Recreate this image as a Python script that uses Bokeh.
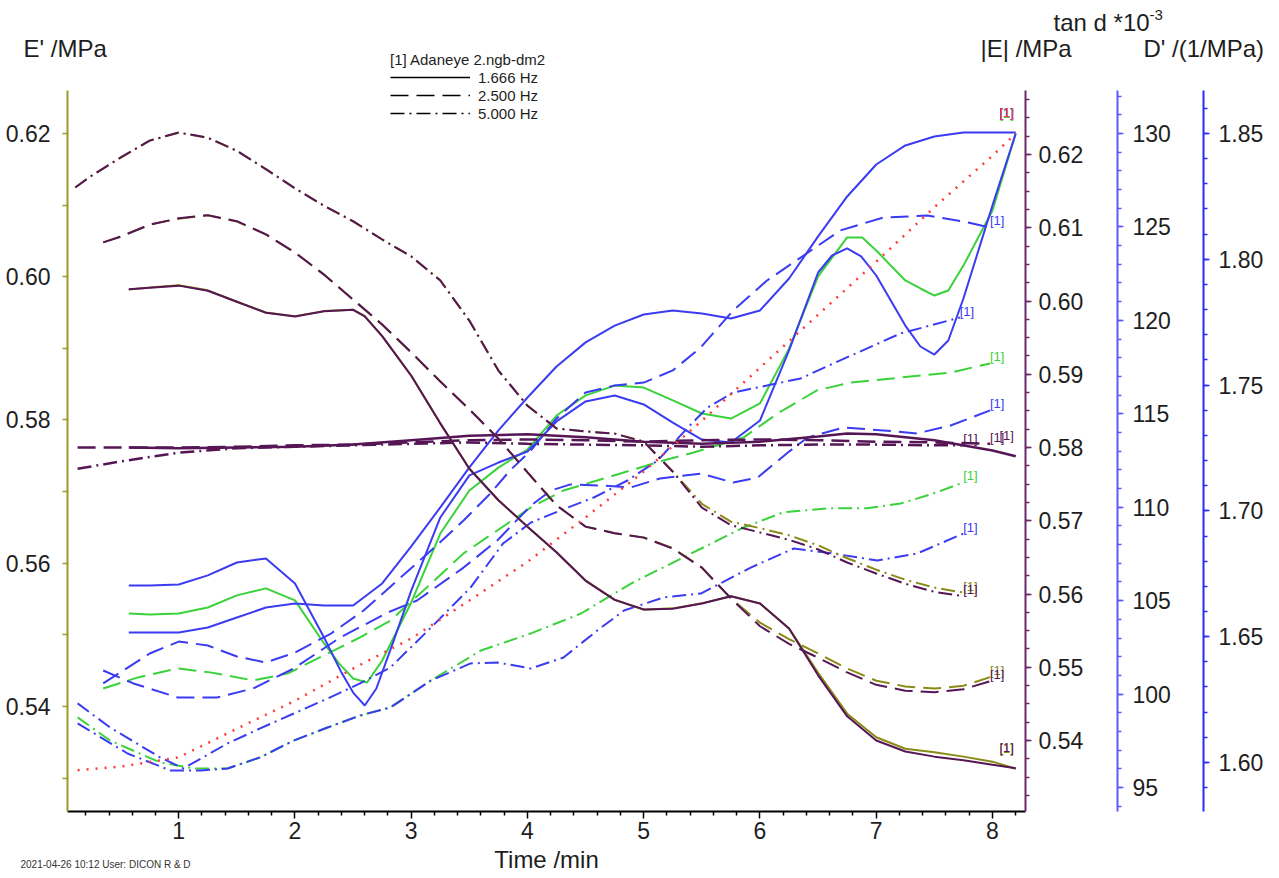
from bokeh.plotting import figure
from bokeh.models import (Range1d, LinearAxis, FixedTicker, Label, Legend, LegendItem,
                          ColumnDataSource, PrintfTickFormatter)
from bokeh.core.properties import value
from bokeh.embed import file_html
from bokeh.resources import INLINE

# ---------------------------------------------------------------- data
# E' (left axis) and |E| (first right axis), three frequencies
T_SOLID = [0.57, 0.75, 1.0, 1.25, 1.5, 1.75, 2.0, 2.25, 2.5, 2.6, 2.75, 3.0, 3.25, 3.5, 3.75, 4.0,
           4.25, 4.5, 4.75, 5.0, 5.25, 5.5, 5.75, 6.0, 6.25, 6.5, 6.75, 7.0, 7.25, 7.5, 7.75, 8.0, 8.2]
EP_SOLID = [0.5982, 0.5985, 0.5988, 0.5981, 0.5965, 0.5950, 0.5945, 0.5952, 0.5954, 0.5945, 0.5917,
            0.5862, 0.5795, 0.5732, 0.5688, 0.5651, 0.5615, 0.5576, 0.5549, 0.5535, 0.5537, 0.5544,
            0.5554, 0.5544, 0.5509, 0.5447, 0.5390, 0.5357, 0.5341, 0.5336, 0.5330, 0.5323, 0.5313]
ABS_SOLID = [0.6016, 0.6018, 0.6021, 0.6014, 0.5999, 0.5984, 0.5979, 0.5986, 0.5988, 0.5979, 0.5952,
             0.5898, 0.5833, 0.5771, 0.5728, 0.5692, 0.5657, 0.5618, 0.5592, 0.5579, 0.5580, 0.5587,
             0.5597, 0.5587, 0.5553, 0.5489, 0.5433, 0.5400, 0.5385, 0.5378, 0.5373, 0.5367, 0.5362]

T_DASH = [0.35, 0.5, 0.75, 1.0, 1.25, 1.5, 1.75, 2.0, 2.25, 2.5, 2.75, 3.0, 3.25, 3.5, 3.75, 4.0,
          4.25, 4.5, 4.75, 5.0, 5.25, 5.5, 5.75, 6.0, 6.25, 6.5, 6.75, 7.0, 7.25, 7.5, 7.75, 7.98]
EP_DASH = [0.6048, 0.6056, 0.6073, 0.6081, 0.6086, 0.6077, 0.6059, 0.6034, 0.6003, 0.5968, 0.5933,
           0.5894, 0.5854, 0.5815, 0.5774, 0.5727, 0.5681, 0.5651, 0.5642, 0.5636, 0.5621, 0.5594,
           0.5551, 0.5517, 0.5494, 0.5474, 0.5453, 0.5436, 0.5428, 0.5425, 0.5429, 0.5441]
ABS_DASH = [0.6080, 0.6088, 0.6104, 0.6113, 0.6117, 0.6109, 0.6091, 0.6066, 0.6036, 0.6002, 0.5968,
            0.5930, 0.5890, 0.5852, 0.5812, 0.5766, 0.5721, 0.5692, 0.5683, 0.5677, 0.5662, 0.5636,
            0.5594, 0.5556, 0.5532, 0.5513, 0.5493, 0.5476, 0.5468, 0.5466, 0.5470, 0.5481]

T_DDOT = [0.11, 0.25, 0.5, 0.75, 1.0, 1.25, 1.5, 1.75, 2.0, 2.25, 2.5, 2.75, 3.0, 3.25, 3.5, 3.75,
          4.0, 4.25, 4.5, 4.75, 5.0, 5.25, 5.5, 5.75, 6.0, 6.25, 6.5, 6.75, 7.0, 7.25, 7.5, 7.75]
EP_DDOT = [0.6125, 0.6141, 0.6166, 0.6190, 0.6201, 0.6194, 0.6176, 0.6150, 0.6123, 0.6099, 0.6077,
           0.6052, 0.6028, 0.5995, 0.5939, 0.5869, 0.5820, 0.5788, 0.5784, 0.5781, 0.5770, 0.5728,
           0.5683, 0.5658, 0.5649, 0.5639, 0.5625, 0.5607, 0.5591, 0.5577, 0.5566, 0.5559]
ABS_DDOT = [0.6155, 0.6171, 0.6196, 0.6219, 0.6230, 0.6223, 0.6205, 0.6180, 0.6154, 0.6130, 0.6109,
            0.6084, 0.6061, 0.6028, 0.5973, 0.5905, 0.5857, 0.5826, 0.5822, 0.5819, 0.5808, 0.5767,
            0.5718, 0.5694, 0.5684, 0.5674, 0.5661, 0.5643, 0.5628, 0.5614, 0.5603, 0.5597]

# nearly flat |E| traces
T_FLAT_S = [0.57, 1.0, 1.5, 2.0, 2.5, 3.0, 3.5, 4.0, 4.5, 5.0, 5.5, 6.0, 6.5, 6.75, 7.0, 7.5, 8.0, 8.2]
FLAT_S = [0.5800, 0.5799, 0.5800, 0.5801, 0.5804, 0.5810, 0.5816, 0.5818, 0.5814, 0.5808, 0.5805,
          0.5808, 0.5815, 0.5819, 0.5818, 0.5810, 0.5796, 0.5788]
T_FLAT_D = [0.13, 0.5, 1.0, 1.5, 2.0, 2.5, 3.0, 3.5, 4.0, 4.5, 5.0, 5.5, 6.0, 6.5, 7.0, 7.5, 7.98]
FLAT_D = [0.5800, 0.5800, 0.5800, 0.5801, 0.5803, 0.5804, 0.5807, 0.5810, 0.5811, 0.5810, 0.5808,
          0.5810, 0.5811, 0.5810, 0.5808, 0.5807, 0.5805]
T_FLAT_DD = [0.13, 0.5, 1.0, 1.5, 2.0, 2.5, 3.0, 3.5, 4.0, 4.5, 5.0, 5.5, 6.0, 6.5, 7.0, 7.5, 7.75]
FLAT_DD = [0.5771, 0.5781, 0.5793, 0.5799, 0.5801, 0.5803, 0.5805, 0.5807, 0.5805, 0.5804, 0.5803,
           0.5801, 0.5803, 0.5804, 0.5804, 0.5803, 0.5803]

# tan d *10^-3 (blue)
T_TAN_S1 = [0.57, 0.75, 1.0, 1.25, 1.5, 1.75, 2.0, 2.25, 2.4, 2.5, 2.6, 2.7, 2.85, 3.0, 3.25, 3.5,
            3.75, 4.0, 4.25, 4.5, 4.75, 5.0, 5.25, 5.5, 5.75, 6.0, 6.25, 6.5, 6.62, 6.75, 6.87, 7.0,
            7.25, 7.38, 7.5, 7.62, 7.75, 8.0, 8.2]
TAN_S1 = [105.81, 105.81, 105.86, 106.35, 107.04, 107.26, 105.92, 103.03, 101.15, 100.08, 99.39,
          100.30, 102.87, 105.54, 109.45, 111.70, 112.39, 112.98, 114.59, 115.66, 115.98, 115.50,
          114.53, 113.62, 113.46, 114.64, 118.39, 122.56, 123.47, 123.85, 123.42, 122.40, 119.72,
          118.60, 118.17, 118.92, 121.17, 126.15, 130.00]
T_TAN_S2 = [0.57, 0.75, 1.0, 1.25, 1.5, 1.75, 2.0, 2.25, 2.5, 2.75, 3.0, 3.25, 3.5, 3.75, 4.0, 4.25,
            4.5, 4.75, 5.0, 5.25, 5.5, 5.75, 6.0, 6.25, 6.5, 6.75, 7.0, 7.25, 7.5, 7.75, 8.0, 8.2]
TAN_S2 = [103.30, 103.30, 103.30, 103.56, 104.10, 104.63, 104.85, 104.74, 104.74, 105.92, 107.90,
          109.99, 112.13, 114.11, 115.87, 117.53, 118.82, 119.72, 120.31, 120.53, 120.37, 120.10,
          120.53, 122.24, 124.49, 126.63, 128.34, 129.36, 129.84, 130.05, 130.05, 130.05]
T_TAN_D1 = [0.35, 0.75, 1.0, 1.25, 1.5, 1.75, 2.0, 2.31, 2.59, 2.88, 3.17, 3.45, 3.68, 3.85, 4.03,
            4.25, 4.5, 4.75, 5.0, 5.25, 5.49, 5.77, 6.06, 6.35, 6.69, 7.06, 7.44, 7.79, 7.98]
TAN_D1 = [100.57, 102.17, 102.81, 102.60, 102.01, 101.69, 102.22, 103.24, 104.47, 106.08, 107.68,
          109.29, 110.73, 111.97, 113.04, 114.75, 116.14, 116.51, 116.67, 117.32, 118.55, 120.53,
          122.13, 123.36, 124.81, 125.50, 125.61, 125.24, 124.97]
T_TAN_D2 = [0.35, 0.61, 0.99, 1.33, 1.64, 1.99, 2.39, 2.80, 3.05, 3.45, 3.74, 4.03, 4.20, 4.37, 4.63,
            4.89, 5.14, 5.49, 5.77, 5.98, 6.24, 6.41, 6.72, 7.06, 7.35, 7.64, 7.98]
TAN_D2 = [101.26, 100.57, 99.82, 99.82, 100.30, 101.37, 103.03, 104.37, 105.01, 106.77, 108.22,
          110.09, 110.89, 111.22, 111.16, 111.06, 111.54, 111.80, 111.32, 111.59, 112.93, 113.73,
          114.27, 114.11, 113.95, 114.37, 115.18]
T_TAN_DD1 = [0.13, 0.41, 0.84, 1.04, 1.42, 1.70, 1.99, 2.28, 2.56, 2.82, 3.17, 3.51, 3.79, 4.03, 4.28,
             4.57, 4.86, 5.12, 5.38, 5.55, 5.77, 6.06, 6.35, 6.63, 7.21, 7.72]
TAN_DD1 = [99.50, 98.21, 96.61, 96.02, 97.36, 98.16, 98.96, 99.76, 100.57, 101.42, 103.56, 105.70,
           108.06, 109.18, 109.82, 110.52, 111.43, 112.50, 114.27, 115.34, 116.14, 116.51, 116.89,
           117.69, 119.30, 120.15]
T_TAN_DD2 = [0.13, 0.56, 0.93, 1.19, 1.42, 1.70, 1.99, 2.28, 2.56, 2.82, 3.17, 3.51, 3.74, 4.03, 4.31,
             4.60, 4.83, 5.17, 5.49, 5.92, 6.29, 6.63, 7.01, 7.35, 7.75]
TAN_DD2 = [98.43, 96.82, 95.91, 95.91, 96.02, 96.61, 97.52, 98.21, 98.85, 99.28, 100.73, 101.64,
           101.69, 101.37, 101.96, 103.40, 104.47, 105.17, 105.38, 106.77, 107.79, 107.52, 107.15,
           107.52, 108.59]

# D' (green)
T_DP_S = [0.57, 0.75, 1.0, 1.25, 1.5, 1.75, 2.0, 2.25, 2.38, 2.5, 2.62, 2.75, 3.0, 3.25, 3.5, 3.75,
          4.0, 4.25, 4.5, 4.75, 5.0, 5.25, 5.5, 5.75, 6.0, 6.25, 6.5, 6.75, 6.88, 7.0, 7.25, 7.38,
          7.5, 7.62, 7.75, 8.0, 8.2]
DP_S = [1.6592, 1.6588, 1.6592, 1.6616, 1.6664, 1.6692, 1.6644, 1.6473, 1.6393, 1.6334, 1.6318,
        1.6405, 1.6636, 1.6910, 1.7081, 1.7172, 1.7244, 1.7379, 1.7459, 1.7498, 1.7490, 1.7439,
        1.7387, 1.7367, 1.7427, 1.7645, 1.7932, 1.8087, 1.8087, 1.8035, 1.7916, 1.7884, 1.7856,
        1.7876, 1.7975, 1.8194, 1.8500]
T_DP_D = [0.35, 0.65, 0.99, 1.27, 1.64, 1.94, 2.28, 2.56, 2.82, 3.17, 3.45, 3.74, 4.03, 4.31, 4.60,
          4.89, 5.17, 5.43, 5.86, 6.15, 6.49, 6.78, 7.21, 7.64, 7.98]
DP_D = [1.6294, 1.6338, 1.6374, 1.6358, 1.6326, 1.6354, 1.6433, 1.6497, 1.6564, 1.6711, 1.6831,
        1.6922, 1.7014, 1.7081, 1.7121, 1.7161, 1.7200, 1.7232, 1.7292, 1.7387, 1.7479, 1.7510,
        1.7530, 1.7550, 1.7586]
T_DP_DD = [0.13, 0.41, 0.84, 1.13, 1.42, 1.70, 1.99, 2.28, 2.56, 2.82, 3.17, 3.60, 4.03, 4.46, 4.89,
           5.34, 5.86, 6.20, 6.58, 6.92, 7.21, 7.49, 7.75]
DP_DD = [1.6179, 1.6087, 1.6000, 1.5976, 1.5976, 1.6020, 1.6087, 1.6139, 1.6187, 1.6219, 1.6326,
         1.6445, 1.6513, 1.6592, 1.6711, 1.6815, 1.6934, 1.6994, 1.7010, 1.7010, 1.7029, 1.7069,
         1.7113]

# red dotted reference trace (left axis units)
T_REF = [0.13, 0.5, 1.0, 1.5, 2.0, 2.5, 3.0, 3.5, 4.0, 4.5, 5.0, 5.5, 6.0, 6.5, 7.0, 7.5, 8.0, 8.2]
REF = [0.5311, 0.5316, 0.5329, 0.5369, 0.5408, 0.5453, 0.5495, 0.5548, 0.5602, 0.5664, 0.5728,
       0.5799, 0.5873, 0.5947, 0.6021, 0.6097, 0.6169, 0.6200]

# ticks and texts
X_MAJOR = [1, 2, 3, 4, 5, 6, 7, 8]
EP_MAJOR = [0.54, 0.56, 0.58, 0.60, 0.62]
EP_MINOR = [0.53, 0.55, 0.57, 0.59, 0.61]
ABS_MAJOR = [0.54, 0.55, 0.56, 0.57, 0.58, 0.59, 0.60, 0.61, 0.62]
TAN_MAJOR = [95, 100, 105, 110, 115, 120, 125, 130]
DP_MAJOR = [1.60, 1.65, 1.70, 1.75, 1.80, 1.85]
FREQ_LABELS = ["1.666 Hz", "2.500 Hz", "5.000 Hz"]
SAMPLE_NAME = "[1] Adaneye 2.ngb-dm2"
FOOTER = "2021-04-26 10:12    User: DICON R & D"

# ---------------------------------------------------------------- geometry / style
W, H = 1279, 878                 # figure fills the window (page has no margin)
PAGE = 0
FL, FR, FT, FB = 67, 1025, 90, 811  # plotting box in page pixels
X0, X1 = 0.043, 8.284
EP0, EP1 = 0.52534, 0.6260
AB0, AB1 = 0.53031, 0.62874
TD0, TD1 = 93.716, 132.30
DP0, DP1 = 1.5805, 1.8671


def outer_x(a, b):
    k = (b - a) / (FR - FL)
    return a - (FL - PAGE) * k, b + (PAGE + W - FR) * k


def outer_y(a, b):
    k = (b - a) / (FB - FT)
    return a - (PAGE + H - FB) * k, b + (FT - PAGE) * k


XS, XE = outer_x(X0, X1)
YS, YE = outer_y(EP0, EP1)


def tx(px):
    return XS + (px - PAGE) / W * (XE - XS)


def ty(py):
    return YE - (py - PAGE) / H * (YE - YS)


OLIVE = "#8a8a16"
PURPLE = "#561656"
BLUE = "#3b3bf2"
GREEN = "#3ad23a"
RED = "#ff3a3a"
AX_OLIVE = "#9a9a2a"
AX_PURPLE = "#6a2a6a"
AX_BLUE1 = "#5a5aff"
AX_BLUE2 = "#2a2aff"
TXT = "#1e1e1e"
FONT = "Liberation Sans"
SOLID, DASH, DDOT, DOT = "solid", "18 8", "14 5 2 5", "2 7"

x_minor = [round(0.2 * i, 1) for i in range(1, 42) if (i % 5) != 0]
abs_minor = [round(0.5325 + 0.0025 * i, 4) for i in range(0, 39)]
tan_minor = list(range(94, 133))
dp_minor = [round(1.59 + 0.01 * i, 2) for i in range(0, 28)]

p = figure(width=W, height=H, output_backend="svg", toolbar_location=None,
           x_axis_type=None, y_axis_type=None,
           x_range=Range1d(XS, XE), y_range=Range1d(YS, YE),
           min_border=0, background_fill_color="white", border_fill_color="white")
p.extra_y_ranges = {"absE": Range1d(*outer_y(AB0, AB1)), "tand": Range1d(*outer_y(TD0, TD1)),
                    "dprime": Range1d(*outer_y(DP0, DP1))}
p.grid.visible = False
p.outline_line_color = None


def style_axis(ax, color, major_out, minor_out, standoff):
    ax.axis_line_color = color
    ax.axis_line_width = 2
    ax.major_tick_line_color = color
    ax.minor_tick_line_color = color
    ax.major_tick_line_width = 1.5
    ax.minor_tick_line_width = 1.5
    ax.major_tick_out = major_out
    ax.major_tick_in = 0
    ax.minor_tick_out = minor_out
    ax.minor_tick_in = 0
    ax.major_label_text_font = FONT
    ax.major_label_text_font_size = "23px"
    ax.major_label_text_color = TXT
    ax.major_label_standoff = standoff


xa = LinearAxis(fixed_location=EP0, bounds=(X0, X1),
                ticker=FixedTicker(ticks=X_MAJOR, minor_ticks=x_minor))
style_axis(xa, "black", 7, 4, 3)
p.add_layout(xa, "below")

ya = LinearAxis(fixed_location=X0, bounds=(EP0, EP1),
                ticker=FixedTicker(ticks=EP_MAJOR, minor_ticks=EP_MINOR),
                formatter=PrintfTickFormatter(format="%.2f"))
style_axis(ya, AX_OLIVE, 5, 5, 12)
p.add_layout(ya, "left")

ax_abs = LinearAxis(y_range_name="absE", fixed_location=X1, bounds=(AB0, AB1),
                    ticker=FixedTicker(ticks=ABS_MAJOR, minor_ticks=abs_minor),
                    formatter=PrintfTickFormatter(format="%.2f"))
style_axis(ax_abs, AX_PURPLE, 6, 4, 7)
p.add_layout(ax_abs, "right")

ax_tan = LinearAxis(y_range_name="tand", fixed_location=tx(1117), bounds=(TD0, TD1),
                    ticker=FixedTicker(ticks=TAN_MAJOR, minor_ticks=tan_minor),
                    formatter=PrintfTickFormatter(format="%d"))
style_axis(ax_tan, AX_BLUE1, 6, 4, 9)
p.add_layout(ax_tan, "right")

ax_dp = LinearAxis(y_range_name="dprime", fixed_location=tx(1203), bounds=(DP0, DP1),
                   ticker=FixedTicker(ticks=DP_MAJOR, minor_ticks=dp_minor),
                   formatter=PrintfTickFormatter(format="%.2f"))
style_axis(ax_dp, AX_BLUE2, 6, 4, 9)
p.add_layout(ax_dp, "right")

# ---------------------------------------------------------------- traces
SERIES = [
    (T_DP_DD, DP_DD, "dprime", GREEN, DDOT, 2),
    (T_DP_D, DP_D, "dprime", GREEN, DASH, 2),
    (T_DP_S, DP_S, "dprime", GREEN, SOLID, 2),
    (T_TAN_DD2, TAN_DD2, "tand", BLUE, DDOT, 2),
    (T_TAN_DD1, TAN_DD1, "tand", BLUE, DDOT, 2),
    (T_TAN_D2, TAN_D2, "tand", BLUE, DASH, 2),
    (T_TAN_D1, TAN_D1, "tand", BLUE, DASH, 2),
    (T_TAN_S1, TAN_S1, "tand", BLUE, SOLID, 2),
    (T_TAN_S2, TAN_S2, "tand", BLUE, SOLID, 2),
    (T_FLAT_DD, FLAT_DD, "absE", PURPLE, DDOT, 2.5),
    (T_FLAT_D, FLAT_D, "absE", PURPLE, DASH, 2.5),
    (T_FLAT_S, FLAT_S, "absE", PURPLE, SOLID, 2.5),
    (T_DDOT, EP_DDOT, "default", OLIVE, DDOT, 2),
    (T_DASH, EP_DASH, "default", OLIVE, DASH, 2),
    (T_SOLID, EP_SOLID, "default", OLIVE, SOLID, 2),
    (T_DDOT, ABS_DDOT, "absE", PURPLE, DDOT, 2),
    (T_DASH, ABS_DASH, "absE", PURPLE, DASH, 2),
    (T_SOLID, ABS_SOLID, "absE", PURPLE, SOLID, 2),
    (T_REF, REF, "default", RED, DOT, 2.5),
]

for ts, vs, rn, col, dash, lw in SERIES:
    src = ColumnDataSource(dict(x=ts, y=vs))
    p.line("x", "y", source=src, y_range_name=rn, line_color=col, line_dash=dash, line_width=lw)

for ts, vs, rn, col, dash, lw in SERIES:
    end = ColumnDataSource(dict(x=[ts[-1]], y=[vs[-1]], t=["[1]"]))
    at_edge = ts[-1] > 8.1
    p.text("x", "y", text="t", source=end, y_range_name=rn, text_color=col,
           text_font=value(FONT), text_font_size="13px", text_align="center",
           text_baseline="bottom", x_offset=-9 if at_edge else 7, y_offset=-13 if at_edge else 1)

# legend (black samples; the sample renderers hold no visible point)
NAN = float("nan")
leg_items = []
for lab, dash in zip(FREQ_LABELS, [SOLID, DASH, DDOT]):
    r = p.line(x=[NAN], y=[NAN], line_color="black", line_width=1.5, line_dash=dash)
    leg_items.append(LegendItem(label=lab, renderers=[r]))
legend = Legend(items=leg_items, location=(388 - PAGE, PAGE + H - 124), title=SAMPLE_NAME,
                title_text_font=FONT, title_text_font_size="15px", title_text_font_style="normal",
                title_text_color=TXT, title_standoff=0,
                label_text_font=FONT, label_text_font_size="15px", label_text_color=TXT,
                glyph_width=80, glyph_height=18, label_height=18, label_standoff=8,
                spacing=0, padding=2, margin=0, background_fill_alpha=0, border_line_alpha=0)
p.add_layout(legend)


# ---------------------------------------------------------------- titles (page px -> data)
def add_text(px, py, text, size, color=TXT, align="left"):
    p.add_layout(Label(x=tx(px), y=ty(py), text=text, text_font=FONT, text_font_size=size,
                       text_color=color, text_align=align, text_baseline="alphabetic"))


add_text(23, 48, "E' /MPa", "24px")
add_text(980, 48, "|E| /MPa", "24px")
add_text(1053, 22, "tan d *10", "24px")
add_text(1149, 14, "-3", "15px")
add_text(1143, 48, "D' /(1/MPa)", "24px")
add_text(546, 859, "Time /min", "24px", align="center")
add_text(20, 864, FOOTER, "10px", "#333333")

open("out.html", "w").write(file_html(p, INLINE))
